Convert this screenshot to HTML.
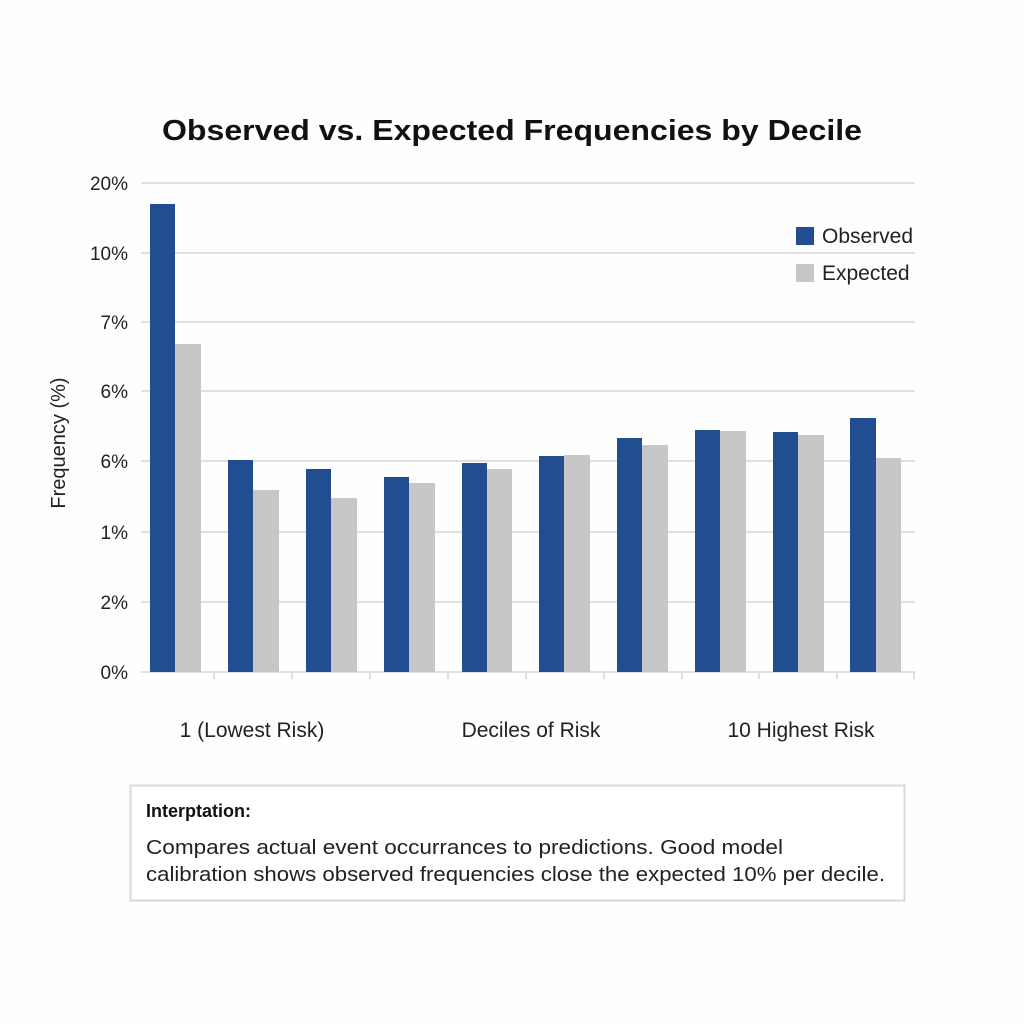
<!DOCTYPE html>
<html><head><meta charset="utf-8"><style>
html,body{margin:0;padding:0;background:#fff;}
svg{display:block;}
text{font-family:"Liberation Sans",sans-serif;}
</style></head><body>
<svg width="1024" height="1024" viewBox="0 0 1024 1024">
<rect width="1024" height="1024" fill="#fefefe"/>
<text x="512" y="140" text-anchor="middle" font-size="29" font-weight="bold" fill="#111" textLength="700" lengthAdjust="spacingAndGlyphs">Observed vs. Expected Frequencies by Decile</text>
<g stroke="#e0e0e0" stroke-width="2">
<line x1="141" y1="183" x2="915" y2="183"/>
<line x1="141" y1="253" x2="915" y2="253"/>
<line x1="141" y1="322" x2="915" y2="322"/>
<line x1="141" y1="391" x2="915" y2="391"/>
<line x1="141" y1="461" x2="915" y2="461"/>
<line x1="141" y1="532" x2="915" y2="532"/>
<line x1="141" y1="602" x2="915" y2="602"/>
<line x1="141" y1="672" x2="915" y2="672"/>
</g>
<g stroke="#d4d4d4" stroke-width="1.5">
<line x1="214" y1="672" x2="214" y2="679"/><line x1="292" y1="672" x2="292" y2="679"/>
<line x1="370" y1="672" x2="370" y2="679"/><line x1="448" y1="672" x2="448" y2="679"/>
<line x1="526" y1="672" x2="526" y2="679"/><line x1="604" y1="672" x2="604" y2="679"/>
<line x1="682" y1="672" x2="682" y2="679"/><line x1="759" y1="672" x2="759" y2="679"/>
<line x1="837" y1="672" x2="837" y2="679"/><line x1="914" y1="672" x2="914" y2="679"/>
</g>
<g font-size="19" fill="#222" text-anchor="end">
<text x="128" y="190">20%</text><text x="128" y="260">10%</text>
<text x="128" y="329">7%</text><text x="128" y="398">6%</text>
<text x="128" y="468">6%</text><text x="128" y="539">1%</text>
<text x="128" y="609">2%</text><text x="128" y="679">0%</text>
</g>
<text transform="translate(65,443) rotate(-90)" text-anchor="middle" font-size="20" fill="#222">Frequency (%)</text>
<g fill="#234d91">
<rect x="150" y="204" width="25" height="468"/>
<rect x="228" y="460" width="25" height="212"/>
<rect x="306" y="469" width="25" height="203"/>
<rect x="384" y="477" width="25" height="195"/>
<rect x="462" y="463" width="25" height="209"/>
<rect x="539" y="456" width="25" height="216"/>
<rect x="617" y="438" width="25" height="234"/>
<rect x="695" y="430" width="25" height="242"/>
<rect x="773" y="432" width="25" height="240"/>
<rect x="850" y="418" width="26" height="254"/>
</g>
<g fill="#c6c7c9">
<rect x="175" y="344" width="26" height="328"/>
<rect x="253" y="490" width="26" height="182"/>
<rect x="331" y="498" width="26" height="174"/>
<rect x="409" y="483" width="26" height="189"/>
<rect x="487" y="469" width="25" height="203"/>
<rect x="564" y="455" width="26" height="217"/>
<rect x="642" y="445" width="26" height="227"/>
<rect x="720" y="431" width="26" height="241"/>
<rect x="798" y="435" width="26" height="237"/>
<rect x="876" y="458" width="25" height="214"/>
</g>
<rect x="796" y="227" width="18" height="18" fill="#234d91"/>
<rect x="796" y="264" width="18" height="18" fill="#c6c7c9"/>
<text x="822" y="243" font-size="21" fill="#222">Observed</text>
<text x="822" y="280" font-size="21" fill="#222">Expected</text>
<g font-size="21" fill="#222" text-anchor="middle">
<text x="252" y="737">1 (Lowest Risk)</text>
<text x="531" y="737">Deciles of Risk</text>
<text x="801" y="737">10 Highest Risk</text>
</g>
<rect x="130.5" y="785.5" width="774" height="115" fill="#fff" stroke="#d9d9d9" stroke-width="2"/>
<text x="146" y="817" font-size="18" font-weight="bold" fill="#111">Interptation:</text>
<text x="146" y="854" font-size="20" fill="#222" textLength="637" lengthAdjust="spacingAndGlyphs">Compares actual event occurrances to predictions.  Good model</text>
<text x="146" y="881" font-size="20" fill="#222" textLength="739" lengthAdjust="spacingAndGlyphs">calibration shows observed frequencies close the expected 10% per decile.</text>
</svg>
</body></html>
